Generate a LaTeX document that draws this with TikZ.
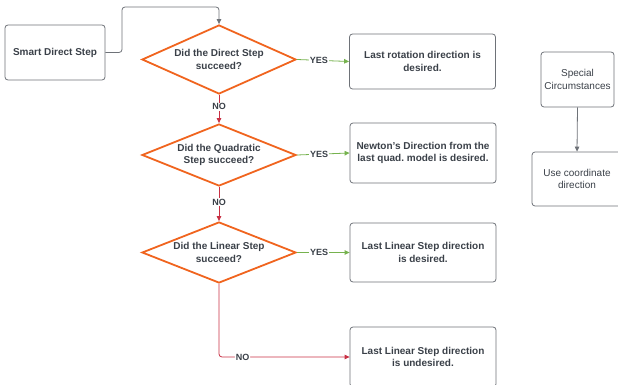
\documentclass[tikz,border=0pt]{standalone}
\usepackage{fontspec}
\setmainfont{Liberation Sans}
\usetikzlibrary{shapes.geometric,arrows.meta,positioning}
\definecolor{txtgray}{RGB}{58,64,72}
\definecolor{boxgray}{RGB}{110,114,120}
\definecolor{deciorange}{RGB}{240,100,30}
\definecolor{yesgreen}{RGB}{118,178,78}
\definecolor{nored}{RGB}{200,48,68}
\tikzset{
every node/.style={text=txtgray, align=center, font=\fontsize{10}{12.3}\selectfont\bfseries},
box/.style={draw=boxgray, rounded corners=3pt, line width=0.8pt, inner sep=0pt, minimum width=146pt},
plainbox/.style={box, font=\fontsize{10}{12.3}\selectfont},
decision/.style={diamond, aspect=2.6, draw=deciorange, line width=1.8pt, inner sep=0pt, minimum width=154pt},
link/.style={draw=boxgray, line width=0.8pt, -{Triangle[length=5pt,width=4.5pt]}},
yes/.style={link, draw=yesgreen},
no/.style={link, draw=nored},
lbl/.style={fill=white, inner sep=0.8pt, font=\fontsize{9}{10}\selectfont\bfseries},
}
\begin{document}
\begin{tikzpicture}[x=1pt,y=-1pt]
    \useasboundingbox (0,0) rectangle (618,385);

    \node[box,minimum width=100pt,minimum height=55pt] (smart) at (55,52.5) {Smart Direct Step};
    \node[decision,minimum height=69pt] (d1) at (219,59.5) {Did the Direct Step\\succeed?};
    \node[decision,minimum height=62pt] (d2) at (219,155) {Did the Quadratic\\Step succeed?};
    \node[decision,minimum height=61pt] (d3) at (219,252.5) {Did the Linear Step\\succeed?};

    \node[box,minimum height=55pt] (rot) at (422.5,61.5) {Last rotation direction is\\desired.};
    \node[box,minimum height=60pt] (newton) at (423,153) {Newton's Direction from the\\last quad.\ model is desired.};
    \node[box,minimum height=59pt] (lindes) at (423,252.5) {Last Linear Step direction\\is desired.};
    \node[box,minimum height=60pt] (linund) at (423,357) {Last Linear Step direction\\is undesired.};

    \node[plainbox,minimum width=73pt,minimum height=55pt] (special) at (577.5,79.5) {Special\\Circumstances};
    \node[plainbox,minimum width=90pt,minimum height=54pt] (coord) at (577,179) {Use coordinate\\direction};

    \coordinate (bend) at (122,7);
    \draw[link,rounded corners=3pt] (smart.east) -| (bend) -| (d1.north);

    \draw[yes] (d1.east) -- node[lbl,pos=0.42]{YES} (rot.west);
    \draw[yes] (d2.east) -- node[lbl,pos=0.42]{YES} (newton.west);
    \draw[yes] (d3.east) -- node[lbl,pos=0.42]{YES} (lindes.west);

    \draw[no] (d1.south) -- node[lbl,pos=0.42]{NO} (d2.north);
    \draw[no] (d2.south) -- node[lbl,pos=0.45]{NO} (d3.north);
    \draw[no,rounded corners=3pt] (d3.south) |- node[lbl,pos=0.59]{NO} (linund.west);

    \draw[link] (special.south) -- (coord.north);

\end{tikzpicture}
\end{document}
